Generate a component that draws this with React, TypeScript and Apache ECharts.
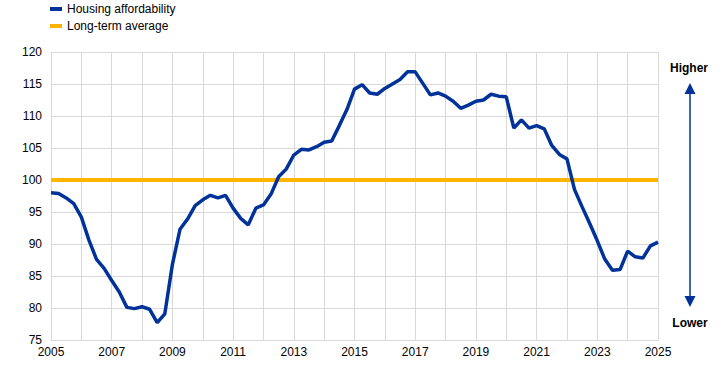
import React, { useEffect, useRef } from "react";
import * as echarts from "echarts";

const startYear = 2005;
const affordability = [
  98.0, 97.9, 97.2, 96.3,
  94.2, 90.6, 87.6, 86.2,
  84.3, 82.5, 80.1, 79.9,
  80.2, 79.8, 77.7, 79.1,
  86.8, 92.3, 93.9, 96.0,
  96.9, 97.6, 97.2, 97.6,
  95.6, 94.0, 93.0, 95.6,
  96.1, 97.8, 100.5, 101.7,
  103.9, 104.8, 104.7, 105.2,
  105.9, 106.1, 108.5, 111.0,
  114.2, 114.9, 113.6, 113.4,
  114.3, 115.0, 115.7, 116.9,
  116.9, 115.1, 113.3, 113.6,
  113.1, 112.3, 111.2, 111.7,
  112.3, 112.5, 113.4, 113.1,
  113.0, 108.1, 109.4, 108.1,
  108.5, 108.0, 105.4, 104.0,
  103.3, 98.5, 95.8, 93.2,
  90.5, 87.6, 85.9, 86.0,
  88.9, 88.0, 87.8, 89.7,
  90.3,
];
const longTermAverage = 100;
const xStart = 2005;
const xEnd = 2025;
const seriesNames = ["Housing affordability", "Long-term average"];
const directionLabels = ["Higher", "Lower"];

const FONT = "Arial, 'Liberation Sans', sans-serif";
const BLUE = "#003299";
const YELLOW = "#FFB400";

export default function App() {
  const ref = useRef<HTMLDivElement>(null);
  useEffect(() => {
    if (!ref.current) return;
    const chart = echarts.init(ref.current, undefined, { renderer: "svg" });
    const lineData = affordability.map((v, i) => [startYear + i * 0.25, v]);
    chart.setOption({
      animation: false,
      textStyle: { fontFamily: FONT },
      legend: {
        orient: "vertical",
        left: 50,
        top: 3,
        padding: 0,
        itemWidth: 12,
        itemHeight: 4,
        itemGap: 5,
        icon: "rect",
        textStyle: { fontSize: 12, color: "#000", fontFamily: FONT },
        data: seriesNames,
      },
      grid: { left: 51, right: 69, top: 52, bottom: 29, containLabel: false },
      xAxis: {
        type: "value",
        min: xStart,
        max: xEnd,
        interval: 1,
        axisLine: { show: true, lineStyle: { color: "#d9d9d9", width: 1 } },
        axisTick: { show: false },
        splitLine: { show: true, lineStyle: { color: "#d9d9d9", width: 1 } },
        axisLabel: {
          color: "#000",
          fontSize: 12,
          fontFamily: FONT,
          margin: 6,
          formatter: (v: number) => ((v - xStart) % 2 === 0 ? String(v) : ""),
        },
      },
      yAxis: {
        type: "value",
        min: 75,
        max: 120,
        interval: 5,
        axisLine: { show: true, lineStyle: { color: "#d9d9d9", width: 1 } },
        axisTick: { show: false },
        splitLine: { show: true, lineStyle: { color: "#d9d9d9", width: 1 } },
        axisLabel: { color: "#000", fontSize: 12, fontFamily: FONT, margin: 9 },
      },
      series: [
        {
          name: seriesNames[0],
          type: "line",
          data: lineData,
          symbol: "none",
          z: 3,
          lineStyle: { color: BLUE, width: 3.5 },
          itemStyle: { color: BLUE },
        },
        {
          name: seriesNames[1],
          type: "line",
          data: [[xStart, longTermAverage], [xEnd, longTermAverage]],
          symbol: "none",
          z: 2,
          lineStyle: { color: YELLOW, width: 4 },
          itemStyle: { color: YELLOW },
        },
      ],
      graphic: [
        {
          type: "text",
          x: 689,
          y: 68,
          style: {
            text: directionLabels[0],
            fill: "#000",
            font: `bold 12px ${FONT}`,
            textAlign: "center",
            textVerticalAlign: "middle",
          },
        },
        {
          type: "text",
          x: 690,
          y: 323,
          style: {
            text: directionLabels[1],
            fill: "#000",
            font: `bold 12px ${FONT}`,
            textAlign: "center",
            textVerticalAlign: "middle",
          },
        },
        {
          type: "line",
          shape: { x1: 690, y1: 92, x2: 690, y2: 297 },
          style: { stroke: BLUE, lineWidth: 1.5 },
        },
        {
          type: "polygon",
          shape: { points: [[690, 83], [684.5, 94], [695.5, 94]] },
          style: { fill: BLUE },
        },
        {
          type: "polygon",
          shape: { points: [[690, 307], [684.5, 296], [695.5, 296]] },
          style: { fill: BLUE },
        },
      ],
    });
    return () => chart.dispose();
  }, []);
  return <div ref={ref} style={{ width: 727, height: 369, position: "absolute", left: 0, top: 0 }} />;
}
